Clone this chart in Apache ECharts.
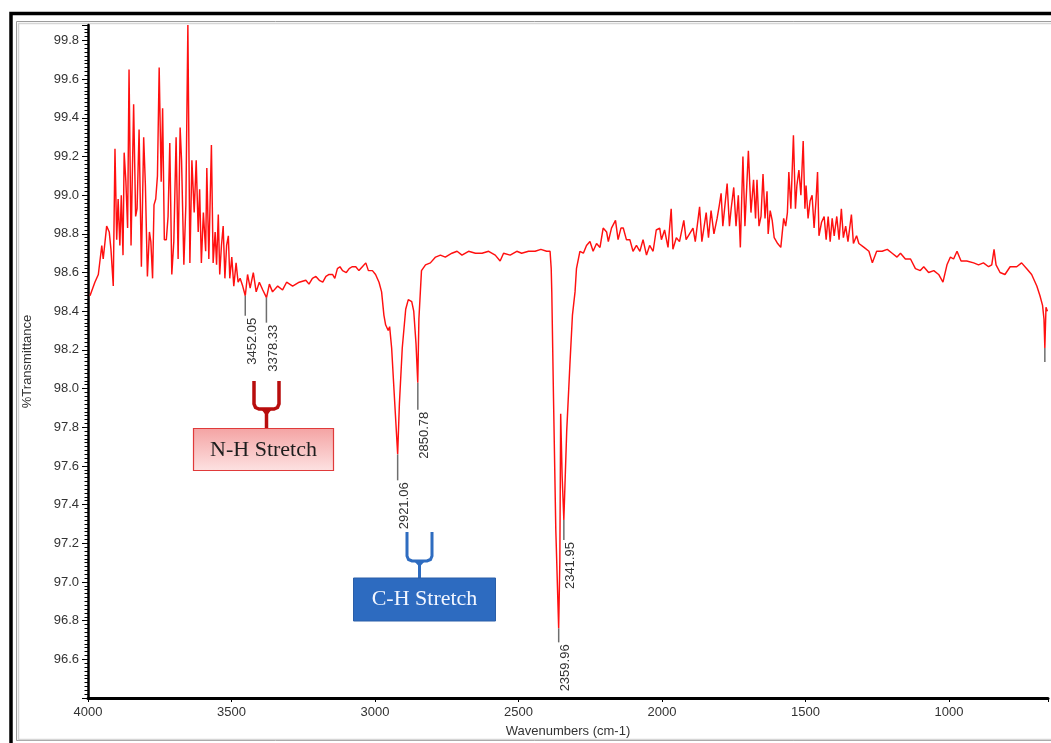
<!DOCTYPE html>
<html><head><meta charset="utf-8">
<script src="https://cdn.jsdelivr.net/npm/echarts@6/dist/echarts.min.js"></script>
<style>html,body{margin:0;padding:0;background:#fff;} #c{width:1051px;height:743px;}</style>
</head><body><div id="c"></div>
<script>
// ---- data ----
const wavenumbers = [
3993,3976,3964,3952,3947,3935,3926,3920,3912,3906,3900,3895,3889,3884,3878,3874,3868,3862,3857,3850,
3841,3834,3829,3822,3814,3806,3800,3793,3786,3781,3775,3770,3764,3758,3752,3745,3740,3734,3727,3721,
3715,3708,3701,3693,3686,3679,3674,3666,3659,3652,3645,3638,3630,3623,3616,3611,3605,3598,3590,3586,
3579,3570,3564,3557,3552,3546,3541,3535,3529,3523,3517,3511,3506,3499,3492,3484,3477,3470,3461,3452,
3444,3435,3424,3414,3403,3391,3378,3368,3357,3339,3322,3308,3287,3264,
3241,3230,3218,3206,3194,3182,3171,3160,3148,3140,3131,3122,3113,3100,3090,3080,3067,3056,3044,3032,
3023,3009,2998,2986,2977,2969,2963,2954,2949,2942,2931,2921,2915,2905,2893,2884,2872,2865,2857,2851,
2847,2838,2824,2807,2789,2772,2755,2732,2714,2697,2674,2650,2627,2604,2581,2564,2552,2529,2506,2489,
2465,2442,2422,2402,2390,2386,2384,2378,2370,2360,2356,2353,2348,2342,2332,2321,2312,2303,2298,
2286,2274,2263,2251,2240,2228,2216,2205,2193,2187,2176,2162,2153,2143,2135,2124,2112,2101,2089,2077,
2066,2054,2043,2031,2020,2008,2002,1991,1979,1968,1962,1950,1939,1924,1916,1904,1892,1884,1869,1861,
1846,1838,1829,1819,1808,1800,1794,1788,1773,1765,1759,1750,1742,1734,1727,1718,1711,1699,1690,1681,
1674,1669,1662,1655,1648,1641,1634,1630,1623,1616,1609,1597,1586,1576,1569,1563,1558,1551,1542,1535,
1530,1523,1516,1508,1502,1498,1491,1484,1477,1470,1463,1458,1453,1444,1435,1428,1421,1414,1407,1400,
1391,1383,1375,1368,1360,1352,1340,1333,1322,1314,1296,1279,1267,1252,1233,1215,1198,1181,1169,1152,
1134,1117,1100,1088,1071,1053,1036,1021,1007,995,984,972,958,938,914,897,880,862,851,843,
836,822,805,787,764,747,729,712,694,683,674,669,666,662,657
];
const transmittance = [
98.48,98.55,98.59,98.74,98.67,98.84,98.81,98.72,98.53,99.24,98.77,98.98,98.74,99.00,98.69,99.22,99.07,98.83,99.65,98.74,
99.47,98.89,98.93,99.34,98.63,99.30,99.05,98.58,98.81,98.76,98.57,98.95,98.98,99.10,99.66,99.07,99.45,98.77,98.77,98.89,
99.27,98.59,98.76,99.30,98.67,99.35,99.18,98.64,98.95,99.88,98.65,99.18,98.91,99.18,98.81,99.03,98.65,98.91,98.71,99.14,
98.67,99.26,98.65,98.81,98.64,98.90,98.59,98.74,98.84,98.57,98.74,98.79,98.57,98.68,98.53,98.65,98.55,98.57,98.53,98.48,
98.59,98.52,98.60,98.50,98.55,98.51,98.47,98.54,98.50,98.53,98.51,98.55,98.53,98.55,
98.56,98.54,98.57,98.58,98.56,98.55,98.58,98.59,98.59,98.57,98.62,98.63,98.61,98.60,98.62,98.63,98.63,98.61,98.63,98.65,
98.61,98.61,98.59,98.55,98.50,98.38,98.33,98.30,98.32,98.21,97.92,97.66,97.92,98.21,98.41,98.46,98.45,98.40,98.23,98.03,
98.36,98.61,98.64,98.65,98.68,98.69,98.68,98.70,98.71,98.69,98.71,98.70,98.70,98.71,98.69,98.66,98.70,98.69,98.71,98.70,
98.71,98.71,98.72,98.71,98.71,98.62,98.50,97.95,97.27,96.76,97.10,97.87,97.55,97.32,97.78,98.12,98.38,98.50,98.62,
98.71,98.70,98.74,98.76,98.71,98.75,98.73,98.83,98.81,98.76,98.83,98.87,98.77,98.83,98.83,98.77,98.77,98.71,98.74,98.71,
98.77,98.69,98.74,98.71,98.82,98.83,98.77,98.82,98.73,98.93,98.72,98.78,98.76,98.87,98.77,98.80,98.83,98.76,98.94,98.76,
98.91,98.78,98.92,98.80,98.88,98.95,99.01,98.84,99.06,98.84,98.93,99.04,98.84,99.00,98.73,99.20,98.84,99.23,98.91,99.08,
98.88,99.08,98.84,98.89,99.11,98.88,99.02,98.80,98.92,98.87,98.78,98.75,98.73,98.88,98.84,98.91,99.12,98.93,99.31,98.93,
99.05,99.13,99.00,99.28,98.93,99.05,98.88,98.97,99.00,98.83,98.98,99.12,98.79,98.86,98.89,98.77,98.89,98.76,98.88,98.79,
98.89,98.77,98.93,98.78,98.84,98.76,98.90,98.75,98.79,98.75,98.73,98.71,98.65,98.71,98.71,98.72,98.70,98.68,98.70,98.67,
98.67,98.62,98.61,98.63,98.60,98.61,98.59,98.55,98.64,98.68,98.67,98.71,98.66,98.66,98.65,98.64,98.65,98.63,98.64,98.72,
98.64,98.60,98.59,98.63,98.63,98.65,98.62,98.59,98.53,98.48,98.43,98.36,98.21,98.42,98.40
];
const peakWavenumbers = [3452.05, 3378.33, 2921.06, 2850.78, 2359.96, 2341.95, 666];
const peakTransmittance = [98.48, 98.47, 97.66, 98.03, 96.76, 97.32, 98.21];
const peakLabels = ['3452.05', '3378.33', '2921.06', '2850.78', '2359.96', '2341.95', ''];
const xTickLabels = [4000, 3500, 3000, 2500, 2000, 1500, 1000];
const yTickLabels = [96.6, 96.8, 97.0, 97.2, 97.4, 97.6, 97.8, 98.0, 98.2, 98.4, 98.6, 98.8, 99.0, 99.2, 99.4, 99.6, 99.8];

// ---- styling (not data) ----
const markerLen = [20, 25, 26, 27, 14, 20, 14];
const FONT = '"Liberation Sans", Arial, sans-serif';
const SERIF = '"Liberation Serif", "Times New Roman", serif';

const lineData = wavenumbers.map((w, i) => [w, transmittance[i]]);
const peakData = peakWavenumbers.map((w, i) => [w, peakTransmittance[i]]);

function bracket(xl, xr, yTop, yBar, r) {
  return [[xl, yTop], [xl, yBar - r], [xl + r * 0.3, yBar - r * 0.3], [xl + r, yBar],
          [xr - r, yBar], [xr - r * 0.3, yBar - r * 0.3], [xr, yBar - r], [xr, yTop]];
}

const chart = echarts.init(document.getElementById('c'), null, {renderer: 'canvas'});
chart.setOption({
  animation: false,
  backgroundColor: '#fff',
  grid: {left: 88, top: 25, right: 0, bottom: 41, containLabel: false},
  xAxis: {
    type: 'value', inverse: true, min: 655, max: 4000,
    name: 'Wavenumbers (cm-1)', nameLocation: 'middle', nameGap: 27,
    nameTextStyle: {fontFamily: FONT, fontSize: 13, color: '#333'},
    axisLine: {show: true, lineStyle: {color: '#000', width: 3}},
    axisTick: {show: true, length: 4, lineStyle: {color: '#000', width: 1}},
    axisLabel: {
      margin: 8, fontFamily: FONT, fontSize: 13, color: '#333',
      formatter: v => (xTickLabels.indexOf(Math.round(v)) >= 0 && Math.abs(v - Math.round(v)) < 1e-6) ? String(Math.round(v)) : ''
    },
    splitLine: {show: false}
  },
  yAxis: {
    type: 'value', min: 96.4, max: 99.88, interval: 0.2,
    name: '%Transmittance', nameLocation: 'middle', nameGap: 54, nameRotate: 90,
    nameTextStyle: {fontFamily: FONT, fontSize: 13, color: '#333'},
    axisLine: {show: true, lineStyle: {color: '#000', width: 2.5}},
    axisTick: {show: true, length: 6, lineStyle: {color: '#000', width: 1}},
    minorTick: {show: true, splitNumber: 10, length: 3.5, lineStyle: {color: '#000', width: 1}},
    axisLabel: {
      margin: 9, fontFamily: FONT, fontSize: 13, color: '#333',
      formatter: v => {
        const hit = yTickLabels.find(t => Math.abs(t - v) < 1e-6);
        return hit !== undefined ? hit.toFixed(1) : '';
      }
    },
    splitLine: {show: false}
  },
  series: [
    {
      type: 'line', data: lineData, showSymbol: false, symbol: 'none',
      lineStyle: {color: '#ff1010', width: 1.45}, z: 2, clip: true
    },
    {
      type: 'custom', data: peakData, z: 3, clip: false,
      renderItem: function (params, api) {
        const i = params.dataIndex;
        const p = api.coord([api.value(0), api.value(1)]);
        const len = markerLen[i];
        const children = [{
          type: 'line',
          shape: {x1: p[0], y1: p[1], x2: p[0], y2: p[1] + len},
          style: {stroke: '#6e6e6e', lineWidth: 1.5}
        }];
        if (peakLabels[i]) {
          children.push({
            type: 'text', x: p[0] + 0.5, y: p[1] + len + 2, rotation: Math.PI / 2,
            style: {text: peakLabels[i], align: 'right', verticalAlign: 'top',
                    font: '13px ' + FONT, fill: '#333'}
          });
        }
        return {type: 'group', children: children};
      }
    }
  ],
  graphic: [
    // outer frame
    {type: 'rect', z: 0, silent: true, shape: {x: 11, y: 13.5, width: 1200, height: 900},
     style: {fill: 'none', stroke: '#000', lineWidth: 3.5}},
    {type: 'rect', z: 0, silent: true, shape: {x: 16.5, y: 21.5, width: 1200, height: 719},
     style: {fill: 'none', stroke: '#9c9c9c', lineWidth: 1}},
    {type: 'rect', z: 0, silent: true, shape: {x: 18.5, y: 23.5, width: 1200, height: 716},
     style: {fill: 'none', stroke: '#d6d6d6', lineWidth: 1.5}},
    // N-H bracket
    {type: 'polyline', z: 50, silent: true, shape: {points: bracket(254, 279, 381, 409, 5)},
     style: {fill: 'none', stroke: '#b80d0d', lineWidth: 3.5}},
    {type: 'line', z: 50, silent: true, shape: {x1: 266.5, y1: 408, x2: 266.5, y2: 428},
     style: {stroke: '#b80d0d', lineWidth: 3.5}},
    {type: 'polygon', z: 50, silent: true, shape: {points: [[261, 409], [272, 409], [266.5, 416]]},
     style: {fill: '#b80d0d'}},
    // N-H box
    {type: 'rect', z: 50, silent: true, shape: {x: 193.5, y: 428.5, width: 140, height: 42},
     style: {
       fill: {type: 'linear', x: 0, y: 0, x2: 0, y2: 1, colorStops: [
         {offset: 0, color: '#f4a3a3'}, {offset: 1, color: '#fde2e2'}]},
       stroke: '#e03a3a', lineWidth: 1.2}},
    {type: 'text', z: 51, silent: true, x: 263.5, y: 450,
     style: {text: 'N-H Stretch', align: 'center', verticalAlign: 'middle', font: '22px ' + SERIF, fill: '#1e1e1e'}},
    // C-H bracket
    {type: 'polyline', z: 50, silent: true, shape: {points: bracket(407, 432, 532, 561, 5)},
     style: {fill: 'none', stroke: '#2e6cc0', lineWidth: 3}},
    {type: 'line', z: 50, silent: true, shape: {x1: 419.5, y1: 560, x2: 419.5, y2: 578},
     style: {stroke: '#2e6cc0', lineWidth: 3}},
    {type: 'polygon', z: 50, silent: true, shape: {points: [[414, 561], [425, 561], [419.5, 567]]},
     style: {fill: '#2e6cc0'}},
    // C-H box
    {type: 'rect', z: 50, silent: true, shape: {x: 353.5, y: 578, width: 142, height: 43},
     style: {fill: '#2d6bc0', stroke: '#2a5ea8', lineWidth: 1}},
    {type: 'text', z: 51, silent: true, x: 424.5, y: 599.5,
     style: {text: 'C-H Stretch', align: 'center', verticalAlign: 'middle', font: '22px ' + SERIF, fill: '#f2f6ff'}}
  ]
});
</script>
</body></html>
